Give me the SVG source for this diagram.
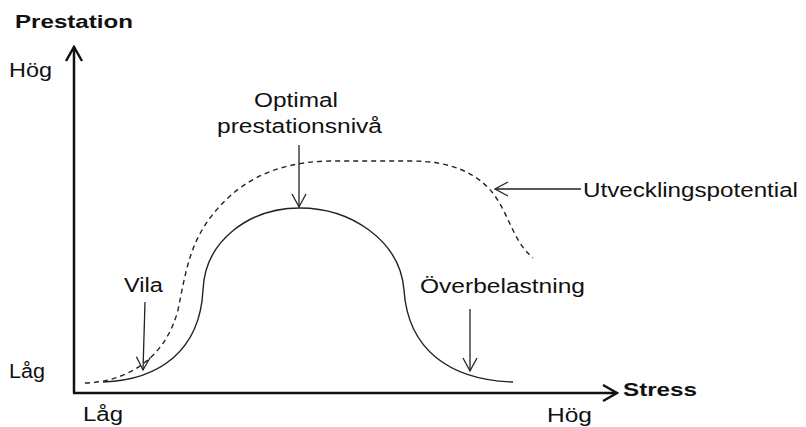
<svg xmlns="http://www.w3.org/2000/svg" width="806" height="427" viewBox="0 0 806 427">
  <style>
    .t { font-family: "Liberation Sans", Arial, sans-serif; font-size: 20px; fill: #111; }
    .b { font-family: "Liberation Sans", Arial, sans-serif; font-size: 19px; font-weight: bold; fill: #111; }
    .axis { stroke: #111; stroke-width: 2.5; fill: none; }
    .curve { stroke: #222; stroke-width: 1.4; fill: none; }
    .dash { stroke: #222; stroke-width: 1.4; fill: none; stroke-dasharray: 5 4; }
    .ptr { stroke: #222; stroke-width: 1.3; fill: none; }
  </style>
  <defs>
    <marker id="ah" markerUnits="userSpaceOnUse" viewBox="0 0 16 16" refX="14" refY="8" markerWidth="16" markerHeight="16" orient="auto">
      <path d="M1,1 L14,8 L1,15" fill="none" stroke="#222" stroke-width="1.3"/>
    </marker>
    <marker id="axh" markerUnits="userSpaceOnUse" viewBox="0 0 18 20" refX="16" refY="10" markerWidth="18" markerHeight="20" orient="auto">
      <path d="M2,2 L16,10 L2,18" fill="none" stroke="#111" stroke-width="2.5"/>
    </marker>
  </defs>

  <g id="axes">
    <path class="axis" d="M74,393 L74,47" marker-end="url(#axh)"/>
    <path class="axis" d="M73,393 L617,393" marker-end="url(#axh)"/>
    <text class="b" x="15" y="28" textLength="118" lengthAdjust="spacingAndGlyphs">Prestation</text>
    <text class="b" x="623" y="396" textLength="74" lengthAdjust="spacingAndGlyphs">Stress</text>
    <text class="t" x="9" y="77" textLength="43" lengthAdjust="spacingAndGlyphs">Hög</text>
    <text class="t" x="9" y="378" textLength="36" lengthAdjust="spacingAndGlyphs">Låg</text>
    <text class="t" x="83" y="421" textLength="40" lengthAdjust="spacingAndGlyphs">Låg</text>
    <text class="t" x="547" y="422" textLength="45" lengthAdjust="spacingAndGlyphs">Hög</text>
  </g>

  <g id="prestationskurva">
    <path class="curve" d="M103,382 C160,380 200,350 203,290 C205,240 250,208 300,208 C350,208 400,240 404,290 C408,350 450,380 513,382"/>
  </g>

  <g id="utvecklingskurva">
    <path class="dash" d="M85,383 C125,382 165,360 178,310 C186,270 190,245 210,218 C235,185 270,162 330,161 L410,161 C450,161 475,172 492,192 C510,215 512,240 533,258"/>
  </g>

  <g id="vila">
    <text class="t" x="124" y="292" textLength="39" lengthAdjust="spacingAndGlyphs">Vila</text>
  </g>
  <g id="optimal">
    <text class="t" x="254" y="107" textLength="84" lengthAdjust="spacingAndGlyphs">Optimal</text>
    <text class="t" x="217" y="133" textLength="165" lengthAdjust="spacingAndGlyphs">prestationsnivå</text>
  </g>
  <g id="overbelastning">
    <text class="t" x="420" y="293" textLength="165" lengthAdjust="spacingAndGlyphs">Överbelastning</text>
  </g>
  <g id="utvecklingspotential">
    <text class="t" x="583" y="197" textLength="215" lengthAdjust="spacingAndGlyphs">Utvecklingspotential</text>
  </g>

  <g id="connectors">
    <path class="ptr" d="M145,302 L143,370" marker-end="url(#ah)"/>
    <path class="ptr" d="M299,145 L299,207" marker-end="url(#ah)"/>
    <path class="ptr" d="M470,309 L470,371" marker-end="url(#ah)"/>
    <path class="ptr" d="M581,189 L495,189" marker-end="url(#ah)"/>
  </g>
</svg>
